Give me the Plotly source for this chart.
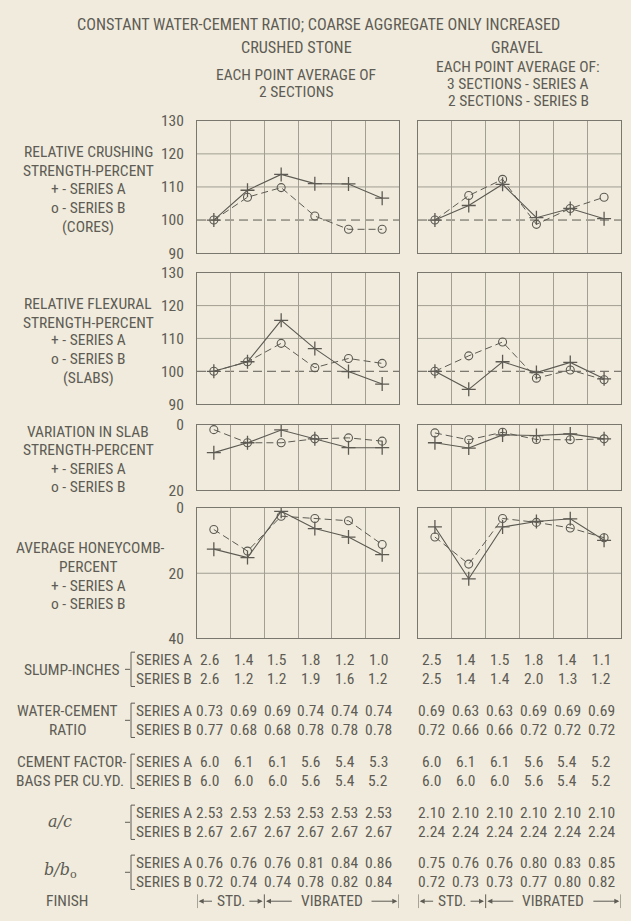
import plotly.graph_objects as go

# ---------------- data ----------------
positions = [1, 2, 3, 4, 5, 6]

crush_stone_A = [100, 109.0, 113.8, 111.0, 110.9, 106.6]
crush_stone_B = [100, 106.9, 109.8, 101.2, 97.2, 97.2]
crush_gravel_A = [100, 104.4, 110.8, 100.7, 103.5, 100.4]
crush_gravel_B = [100, 107.4, 112.3, 98.7, 103.5, 106.9]

flex_stone_A = [100, 102.9, 115.5, 106.9, 99.9, 96.1]
flex_stone_B = [100, 102.9, 108.5, 101.1, 103.9, 102.4]
flex_gravel_A = [100, 94.5, 102.9, 99.6, 102.7, 97.7]
flex_gravel_B = [100, 104.7, 108.9, 97.9, 100.4, 97.4]

var_stone_A = [8.5, 5.5, 1.6, 4.3, 7.0, 7.0]
var_stone_B = [1.5, 5.5, 5.5, 4.3, 4.0, 5.0]
var_gravel_A = [5.5, 7.1, 3.1, 3.3, 2.8, 4.3]
var_gravel_B = [2.5, 4.6, 2.3, 4.5, 4.6, 4.3]

honey_stone_A = [12.6, 15.2, 1.0, 6.3, 8.9, 14.3]
honey_stone_B = [6.6, 13.2, 2.5, 3.2, 3.9, 11.2]
honey_gravel_A = [5.8, 21.7, 5.8, 4.1, 3.3, 9.9]
honey_gravel_B = [8.9, 17.2, 3.2, 4.4, 6.1, 9.1]

strength_ticks = [90, 100, 110, 120, 130]
var_ticks = [0, 20]
honey_ticks = [0, 20, 40]

slump_stone_A = [2.6, 1.4, 1.5, 1.8, 1.2, 1.0]
slump_stone_B = [2.6, 1.2, 1.2, 1.9, 1.6, 1.2]
slump_gravel_A = [2.5, 1.4, 1.5, 1.8, 1.4, 1.1]
slump_gravel_B = [2.5, 1.4, 1.4, 2.0, 1.3, 1.2]

wc_stone_A = [0.73, 0.69, 0.69, 0.74, 0.74, 0.74]
wc_stone_B = [0.77, 0.68, 0.68, 0.78, 0.78, 0.78]
wc_gravel_A = [0.69, 0.63, 0.63, 0.69, 0.69, 0.69]
wc_gravel_B = [0.72, 0.66, 0.66, 0.72, 0.72, 0.72]

cf_stone_A = [6.0, 6.1, 6.1, 5.6, 5.4, 5.3]
cf_stone_B = [6.0, 6.0, 6.0, 5.6, 5.4, 5.2]
cf_gravel_A = [6.0, 6.1, 6.1, 5.6, 5.4, 5.2]
cf_gravel_B = [6.0, 6.0, 6.0, 5.6, 5.4, 5.2]

ac_stone_A = [2.53, 2.53, 2.53, 2.53, 2.53, 2.53]
ac_stone_B = [2.67, 2.67, 2.67, 2.67, 2.67, 2.67]
ac_gravel_A = [2.10, 2.10, 2.10, 2.10, 2.10, 2.10]
ac_gravel_B = [2.24, 2.24, 2.24, 2.24, 2.24, 2.24]

bb_stone_A = [0.76, 0.76, 0.76, 0.81, 0.84, 0.86]
bb_stone_B = [0.72, 0.74, 0.74, 0.78, 0.82, 0.84]
bb_gravel_A = [0.75, 0.76, 0.76, 0.80, 0.83, 0.85]
bb_gravel_B = [0.72, 0.73, 0.73, 0.77, 0.80, 0.82]

# ---------------- style ----------------
W, H = 631, 921
BG = "#f0ebdc"
INK = "#5e5c55"
LINE = "#5c5a53"
GRID = "#a29e92"
BORDER = "#7a776e"
FONT = "Liberation Sans Narrow, Arial Narrow, Roboto Condensed, Liberation Sans, sans-serif"
FS = 15.5
FL = 16.2


def px(x):
    return x / W


def py(y):
    return 1 - y / H


x_dom = [(197, 399), (418, 621)]
y_dom = [(114, 249), (269, 403), (424, 491), (509, 642)]
y_ranges = [[90, 130], [90, 130], [20, 0], [40, 0]]
y_ticks = [strength_ticks, strength_ticks, var_ticks, honey_ticks]

panels = [
    [(crush_stone_A, crush_stone_B), (crush_gravel_A, crush_gravel_B)],
    [(flex_stone_A, flex_stone_B), (flex_gravel_A, flex_gravel_B)],
    [(var_stone_A, var_stone_B), (var_gravel_A, var_gravel_B)],
    [(honey_stone_A, honey_stone_B), (honey_gravel_A, honey_gravel_B)],
]

fig = go.Figure()
layout = {}
shapes = []
annotations = []

for p in range(4):
    for s in range(2):
        i = p * 2 + s + 1
        xa = "x" if i == 1 else f"x{i}"
        ya = "y" if i == 1 else f"y{i}"
        xkey = "xaxis" if i == 1 else f"xaxis{i}"
        ykey = "yaxis" if i == 1 else f"yaxis{i}"
        layout[xkey] = dict(
            domain=[px(x_dom[s][0]), px(x_dom[s][1])], anchor=ya,
            range=[0.5, 6.5], tickvals=[1.5, 2.5, 3.5, 4.5, 5.5],
            showticklabels=False, ticks="", showgrid=True,
            gridcolor=GRID, gridwidth=1, zeroline=False,
            showline=True, mirror=True, linecolor=BORDER, linewidth=1,
            fixedrange=True,
        )
        layout[ykey] = dict(
            domain=[py(y_dom[p][1]), py(y_dom[p][0])], anchor=xa,
            range=y_ranges[p], tickvals=y_ticks[p],
            showticklabels=(s == 0), ticks="", ticklabelstandoff=9,
            tickfont=dict(family=FONT, size=FS, color=INK),
            showgrid=False, zeroline=False,
            showline=True, mirror=True, linecolor=BORDER, linewidth=1,
            fixedrange=True,
        )
        if p < 2:
            for gv in (110, 120):
                shapes.append(dict(type="line", xref=f"{xa} domain", yref=ya,
                                   x0=0, x1=1, y0=gv, y1=gv,
                                   line=dict(color=GRID, width=1), layer="below"))
            shapes.append(dict(type="line", xref=f"{xa} domain", yref=ya,
                               x0=0, x1=1, y0=100, y1=100,
                               line=dict(color=LINE, width=1, dash="9px,5px"), layer="below"))
        if p == 3:
            shapes.append(dict(type="line", xref=f"{xa} domain", yref=ya,
                               x0=0, x1=1, y0=20, y1=20,
                               line=dict(color=GRID, width=1), layer="below"))
        a_vals, b_vals = panels[p][s]
        fig.add_trace(go.Scatter(
            x=positions, y=b_vals, xaxis=xa, yaxis=ya, mode="lines+markers",
            line=dict(color=LINE, width=1, dash="7px,4px"),
            marker=dict(symbol="circle-open", size=8, color=LINE, line=dict(width=1.1)),
            showlegend=False, hoverinfo="skip"))
        fig.add_trace(go.Scatter(
            x=positions, y=a_vals, xaxis=xa, yaxis=ya, mode="lines+markers",
            line=dict(color=LINE, width=1.1),
            marker=dict(symbol="cross-thin", size=10, color=LINE, line=dict(width=1.3, color=LINE)),
            showlegend=False, hoverinfo="skip"))


def text(x, y, t, size=FS, xanchor="center", family=FONT):
    annotations.append(dict(x=px(x), y=py(y), xref="paper", yref="paper", text=t,
                            showarrow=False, xanchor=xanchor, yanchor="middle",
                            font=dict(family=family, size=size, color=INK)))


# header texts
text(318, 16, "CONSTANT WATER-CEMENT RATIO; COARSE AGGREGATE ONLY INCREASED", size=FL)
text(296, 39, "CRUSHED STONE", size=FL)
text(517, 39, "GRAVEL", size=FL)
text(296, 67, "EACH POINT AVERAGE OF")
text(296, 85, "2 SECTIONS")
text(518, 59, "EACH POINT AVERAGE OF:")
text(518, 77, "3 SECTIONS - SERIES A")
text(518, 94, "2 SECTIONS - SERIES B")

# left panel labels
for y, t in [(146, "RELATIVE CRUSHING"), (165, "STRENGTH-PERCENT"), (184, "+ - SERIES A"),
             (203, "o - SERIES B"), (222, "(CORES)"),
             (301, "RELATIVE FLEXURAL"), (320, "STRENGTH-PERCENT"), (338, "+ - SERIES A"),
             (357, "o - SERIES B"), (376, "(SLABS)"),
             (431, "VARIATION IN SLAB"), (450, "STRENGTH-PERCENT"), (469, "+ - SERIES A"),
             (488, "o - SERIES B"),
             (550, "AVERAGE HONEYCOMB-"), (569, "PERCENT"), (588, "+ - SERIES A"),
             (607, "o - SERIES B")]:
    text(90 if "HONEY" in t else 88, y, t)

# tables
tables = [
    (664, 683, "{:.1f}", (slump_stone_A, slump_stone_B, slump_gravel_A, slump_gravel_B)),
    (716, 735, "{:.2f}", (wc_stone_A, wc_stone_B, wc_gravel_A, wc_gravel_B)),
    (768, 787, "{:.1f}", (cf_stone_A, cf_stone_B, cf_gravel_A, cf_gravel_B)),
    (820, 839, "{:.2f}", (ac_stone_A, ac_stone_B, ac_gravel_A, ac_gravel_B)),
    (871, 890, "{:.2f}", (bb_stone_A, bb_stone_B, bb_gravel_A, bb_gravel_B)),
]
for k, (ya_, yb_, fmt, (sa, sb, ga, gb)) in enumerate(tables):
    text(134, ya_, "SERIES A", xanchor="left")
    text(134, yb_, "SERIES B", xanchor="left")
    for vals, yy, xr, sh in [(sa, ya_, "x7", -4), (sb, yb_, "x7", -4),
                             (ga, ya_, "x8", -3), (gb, yb_, "x8", -3)]:
        for j, v in enumerate(vals):
            annotations.append(dict(x=positions[j], y=py(yy), xref=xr, yref="paper",
                                    text=fmt.format(v), showarrow=False, xshift=sh,
                                    xanchor="center", yanchor="middle",
                                    font=dict(family=FONT, size=FS, color=INK)))
    top, bot = py(ya_ - 8), py(yb_ + 8)
    mid = py((ya_ + yb_) / 2)
    shapes.append(dict(type="path", xref="paper", yref="paper",
                       path=f"M {px(135)},{top} L {px(131)},{top} L {px(131)},{bot} L {px(135)},{bot}",
                       line=dict(color=INK, width=1)))
    if k != 2:
        shapes.append(dict(type="line", xref="paper", yref="paper",
                           x0=px(125), x1=px(130), y0=mid, y1=mid,
                           line=dict(color=INK, width=1)))

text(121, 674, "SLUMP-INCHES", xanchor="right")
text(67, 716, "WATER-CEMENT")
text(67, 735, "RATIO")
text(129, 768, "CEMENT FACTOR-", xanchor="right")
text(126, 787, "BAGS PER CU.YD.", xanchor="right")
text(60, 829, "<i>a/c</i>", size=16, family="DejaVu Serif, Liberation Serif, serif")
text(60, 879, "<i>b/b</i><sub>o</sub>", size=16, family="DejaVu Serif, Liberation Serif, serif")
text(67, 910, "FINISH")

# finish brackets
FY = 910
for xr in ("x7", "x8"):
    for bx in (0.5, 2.5, 6.5):
        shapes.append(dict(type="line", xref=xr, yref="paper", x0=bx, x1=bx,
                           y0=py(FY - 7), y1=py(FY + 7), line=dict(color=INK, width=1)))
    annotations.append(dict(x=1.5, y=py(FY), xref=xr, yref="paper", text="STD.",
                            showarrow=False, xanchor="center", yanchor="middle",
                            font=dict(family=FONT, size=FS, color=INK)))
    annotations.append(dict(x=4.5, y=py(FY), xref=xr, yref="paper", text="VIBRATED",
                            showarrow=False, xanchor="center", yanchor="middle",
                            font=dict(family=FONT, size=FS, color=INK)))
    for head, tail in [(0.55, 1.05), (2.45, 1.95), (2.55, 3.42), (6.45, 5.58)]:
        annotations.append(dict(x=head, y=py(FY), xref=xr, yref="paper",
                                ax=tail, ay=0, axref=xr, ayref="pixel",
                                showarrow=True, arrowhead=2, arrowsize=1, arrowwidth=1,
                                arrowcolor=INK, text=" "))

fig.update_layout(
    width=W, height=H, margin=dict(l=0, r=0, t=0, b=0),
    paper_bgcolor=BG, plot_bgcolor=BG,
    shapes=shapes, annotations=annotations, showlegend=False,
    font=dict(family=FONT, size=FS, color=INK),
    **layout,
)

fig.write_html(
    "out.html",
    config={"displayModeBar": False},
    post_script="document.body.style.margin='0';document.body.style.overflow='hidden';"
                "document.documentElement.style.overflow='hidden';",
)
